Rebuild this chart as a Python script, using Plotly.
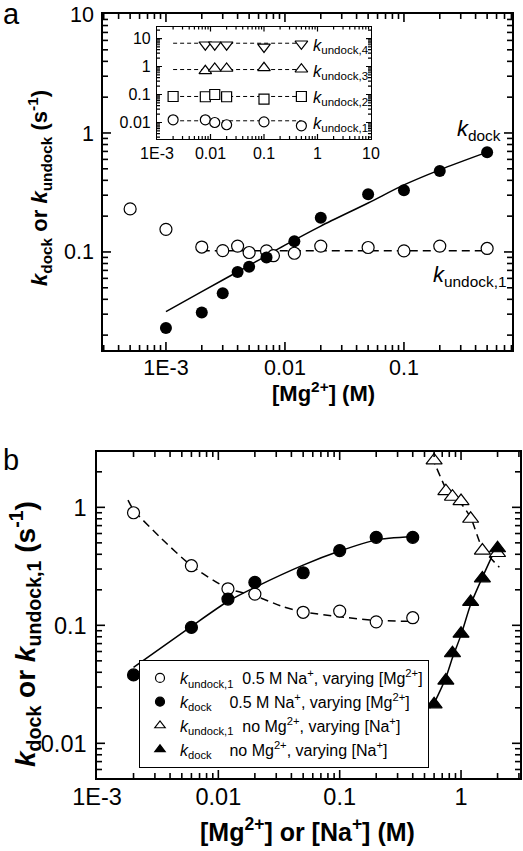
import math
import plotly.graph_objects as go

W, H = 523, 851
FONT = "Arial, Liberation Sans, Helvetica, sans-serif"

# ---------------- Panel a data ----------------
mg_a_undock = [0.0005, 0.001, 0.002, 0.003, 0.004, 0.005, 0.007, 0.008, 0.012, 0.02, 0.05, 0.1, 0.2, 0.5]
k_undock1_a = [0.23, 0.155, 0.11, 0.1025, 0.112, 0.099, 0.102, 0.093, 0.0975, 0.112, 0.109, 0.102, 0.112, 0.107]
mg_a_dock = [0.001, 0.002, 0.003, 0.004, 0.005, 0.007, 0.012, 0.02, 0.05, 0.1, 0.2, 0.5]
k_dock_a = [0.023, 0.031, 0.045, 0.068, 0.075, 0.09, 0.123, 0.194, 0.305, 0.33, 0.48, 0.69]
mg_a_dock_fit = [0.001, 0.002, 0.005, 0.01, 0.02, 0.05, 0.1, 0.2, 0.5]
k_dock_a_fit = [0.0315, 0.0465, 0.077, 0.114, 0.165, 0.258, 0.366, 0.49, 0.69]
mg_a_undock_fit = [0.002, 0.5]
k_undock_a_fit = [0.1025, 0.1025]

# ---------------- Inset data ----------------
mg_inset = [0.002, 0.008, 0.012, 0.02, 0.1, 0.5]
mg_inset_34 = [0.008, 0.012, 0.02, 0.1, 0.5]
k_undock1_in = [0.0125, 0.0125, 0.010, 0.0083, 0.0105, 0.0076]
k_undock2_in = [0.085, 0.083, 0.10, 0.083, 0.068, 0.085]
k_undock3_in = [0.7, 0.85, 0.85, 0.9, 0.8]
k_undock4_in = [6.0, 6.0, 6.0, 5.0, 6.5]
inset_fit_x = [0.002, 0.5]
inset_fit_levels = [0.0115, 0.085, 0.78, 6.8]
inset_names = ["undock,1", "undock,2", "undock,3", "undock,4"]

# ---------------- Panel b data ----------------
mg_b = [0.002, 0.006, 0.012, 0.02, 0.05, 0.1, 0.2, 0.4]
k_undock1_mg_b = [0.9, 0.32, 0.204, 0.184, 0.129, 0.132, 0.107, 0.116]
k_dock_mg_b = [0.038, 0.096, 0.167, 0.231, 0.279, 0.43, 0.557, 0.557]
na_b = [0.6, 0.75, 0.85, 1.0, 1.2, 1.5, 2.0]
k_undock1_na_b = [2.5, 1.37, 1.23, 1.13, 0.80, 0.43, 0.41]
k_dock_na_b = [0.0214, 0.034, 0.058, 0.085, 0.158, 0.25, 0.45]

mg_b_undock_fit = [0.0018, 0.002, 0.0033, 0.006, 0.012, 0.02, 0.034, 0.05, 0.1, 0.2, 0.4]
k_b_undock_fit = [1.15, 0.95, 0.56, 0.32, 0.205, 0.178, 0.144, 0.13, 0.118, 0.11, 0.108]
mg_b_dock_fit = [0.002, 0.006, 0.012, 0.02, 0.05, 0.1, 0.2, 0.4]
k_b_dock_fit = [0.044, 0.098, 0.16, 0.21, 0.324, 0.426, 0.53, 0.565]
na_b_undock_fit = [0.575, 0.75, 0.85, 1.0, 1.2, 1.5, 2.07]
k_b_undock_na_fit = [2.69, 1.45, 1.25, 1.08, 0.82, 0.45, 0.31]
na_b_dock_fit = [0.55, 0.6, 0.75, 0.85, 1.0, 1.2, 1.5, 1.95]
k_b_dock_na_fit = [0.0198, 0.022, 0.036, 0.053, 0.083, 0.15, 0.255, 0.46]

legend_labels = [
    "<i>k</i><sub>undock,1</sub>&nbsp;&nbsp;0.5 M Na<sup>+</sup>, varying [Mg<sup>2+</sup>]",
    "<i>k</i><sub>dock</sub>&nbsp;&nbsp;&nbsp;&nbsp;0.5 M Na<sup>+</sup>, varying [Mg<sup>2+</sup>]",
    "<i>k</i><sub>undock,1</sub>&nbsp;&nbsp;no Mg<sup>2+</sup>, varying [Na<sup>+</sup>]",
    "<i>k</i><sub>dock</sub>&nbsp;&nbsp;&nbsp;&nbsp;no Mg<sup>2+</sup>, varying [Na<sup>+</sup>]",
]


def px(x):
    return x / W


def py(y):
    return 1 - y / H


def log_axis(domain, rng, tickvals, ticktext, anchor, fsize, lw=1.5, standoff=3):
    return dict(
        type="log", domain=domain, range=rng, anchor=anchor, automargin=False,
        showline=True, linecolor="black", linewidth=lw, mirror=True,
        ticks="", tickmode="array", tickvals=tickvals, ticktext=ticktext,
        tickfont=dict(family=FONT, size=fsize, color="black"),
        ticklabelstandoff=standoff,
        showgrid=False, zeroline=False,
    )


fig = go.Figure()

LINE = dict(color="black", width=1.5)
DASH = dict(color="black", width=1.5, dash="8px,5px")

# ---- panel a ----
fig.add_trace(go.Scatter(x=mg_a_dock_fit, y=k_dock_a_fit, mode="lines", line=dict(LINE, shape="spline", smoothing=0.8),
                         xaxis="x", yaxis="y", showlegend=False))
fig.add_trace(go.Scatter(x=mg_a_undock_fit, y=k_undock_a_fit, mode="lines", line=DASH,
                         xaxis="x", yaxis="y", showlegend=False))
fig.add_trace(go.Scatter(x=mg_a_undock, y=k_undock1_a, mode="markers",
                         marker=dict(symbol="circle", size=12, color="white", line=dict(color="black", width=1.2)),
                         xaxis="x", yaxis="y", showlegend=False))
fig.add_trace(go.Scatter(x=mg_a_dock, y=k_dock_a, mode="markers",
                         marker=dict(symbol="circle", size=12, color="black", line=dict(color="black", width=0)),
                         xaxis="x", yaxis="y", showlegend=False))

# ---- inset ----
inset_series = [
    (mg_inset, k_undock1_in, "circle"),
    (mg_inset, k_undock2_in, "square"),
    (mg_inset_34, k_undock3_in, "triangle-up"),
    (mg_inset_34, k_undock4_in, "triangle-down"),
]
for lev in inset_fit_levels:
    fig.add_trace(go.Scatter(x=inset_fit_x, y=[lev, lev], mode="lines",
                             line=dict(color="black", width=1, dash="4px,3px"),
                             xaxis="x2", yaxis="y2", showlegend=False))
for xs, ys, sym in inset_series:
    fig.add_trace(go.Scatter(x=xs, y=ys, mode="markers",
                             marker=dict(symbol=sym, size=10 if sym in ("circle", "square") else 11,
                                         color="white", line=dict(color="black", width=1.2)),
                             xaxis="x2", yaxis="y2", showlegend=False))

# ---- panel b ----
fig.add_trace(go.Scatter(x=mg_b_undock_fit, y=k_b_undock_fit, mode="lines", line=dict(DASH, shape="spline", smoothing=0.6),
                         xaxis="x3", yaxis="y3", showlegend=False))
fig.add_trace(go.Scatter(x=mg_b_dock_fit, y=k_b_dock_fit, mode="lines", line=dict(LINE, shape="spline", smoothing=0.6),
                         xaxis="x3", yaxis="y3", showlegend=False))
fig.add_trace(go.Scatter(x=na_b_undock_fit, y=k_b_undock_na_fit, mode="lines", line=dict(DASH, shape="spline", smoothing=0.6),
                         xaxis="x3", yaxis="y3", showlegend=False))
fig.add_trace(go.Scatter(x=na_b_dock_fit, y=k_b_dock_na_fit, mode="lines", line=dict(LINE, shape="spline", smoothing=0.6),
                         xaxis="x3", yaxis="y3", showlegend=False))

b_series = [
    (mg_b, k_undock1_mg_b, "circle", "white", 12),
    (mg_b, k_dock_mg_b, "circle", "black", 12),
    (na_b, k_undock1_na_b, "triangle-up", "white", 14),
    (na_b, k_dock_na_b, "triangle-up", "black", 14),
]
for xs, ys, sym, col, sz in b_series:
    fig.add_trace(go.Scatter(x=xs, y=ys, mode="markers",
                             marker=dict(symbol=sym, size=sz, color=col, line=dict(color="black", width=1.2)),
                             xaxis="x3", yaxis="y3", showlegend=False))

# legend entries (proxy traces, no data)
for (xs, ys, sym, col, sz), lab in zip(b_series, legend_labels):
    fig.add_trace(go.Scatter(x=[None], y=[None], mode="markers", name=lab,
                             marker=dict(symbol=sym, size=9, color=col, line=dict(color="black", width=1.2)),
                             xaxis="x3", yaxis="y3", showlegend=True))

# ---------------- axes geometry (pixels) and ranges (log10) ----------------
A_XPX, A_YPX = (103, 512), (14, 350)
I_XPX, I_YPX = (157, 371), (26.5, 139)
B_XPX, B_YPX = (97, 520), (452, 778)
RA_X, RA_Y = [-3.529, -0.092], [-1.824, 1.0]
RI_X, RI_Y = [-3.0, 1.0], [-2.59, 1.43]
RB_X, RB_Y = [-3.0, 0.486], [-2.294, 0.469]


# ---------------- inward tick marks drawn on each subplot's own log scale ----------------
def log_tick_values(rng, major_len, minor_len):
    lo, hi = rng
    out = []
    for e in range(math.floor(lo) - 1, math.ceil(hi) + 1):
        for m in range(1, 10):
            v = m * 10.0 ** e
            lv = math.log10(v)
            if lo + 1e-6 < lv < hi - 1e-6:
                out.append((v, major_len if m == 1 else minor_len))
    return out


def add_tick_trace(xaxis, yaxis, xr, yr, xpx, ypx, major_len, minor_len, width):
    ppd_x = (xpx[1] - xpx[0]) / (xr[1] - xr[0])
    ppd_y = (ypx[1] - ypx[0]) / (yr[1] - yr[0])
    xs, ys = [], []
    for v, L in log_tick_values(xr, major_len, minor_len):
        d = L / ppd_y
        xs += [v, v, None, v, v, None]
        ys += [10 ** yr[0], 10 ** (yr[0] + d), None, 10 ** yr[1], 10 ** (yr[1] - d), None]
    for v, L in log_tick_values(yr, major_len, minor_len):
        d = L / ppd_x
        xs += [10 ** xr[0], 10 ** (xr[0] + d), None, 10 ** xr[1], 10 ** (xr[1] - d), None]
        ys += [v, v, None, v, v, None]
    fig.add_trace(go.Scatter(x=xs, y=ys, mode="lines", line=dict(color="black", width=width),
                             connectgaps=False, hoverinfo="skip", showlegend=False,
                             xaxis=xaxis, yaxis=yaxis))


add_tick_trace("x", "y", RA_X, RA_Y, A_XPX, A_YPX, 8, 5, 1.6)
add_tick_trace("x2", "y2", RI_X, RI_Y, I_XPX, I_YPX, 5, 3, 1.2)
add_tick_trace("x3", "y3", RB_X, RB_Y, B_XPX, B_YPX, 8, 5, 1.6)

# ---------------- layout ----------------
layout = dict(
    template="none",
    width=W, height=H,
    margin=dict(l=0, r=0, t=0, b=0, pad=0, autoexpand=False),
    paper_bgcolor="white", plot_bgcolor="white",
    font=dict(family=FONT, color="black"),
    xaxis=log_axis([px(A_XPX[0]), px(A_XPX[1])], RA_X, [0.001, 0.01, 0.1], ["1E-3", "0.01", "0.1"], "y", 21.5, standoff=-3),
    yaxis=log_axis([py(A_YPX[1]), py(A_YPX[0])], RA_Y, [0.1, 1, 10], ["0.1", "1", "10"], "x", 21.5, standoff=3),
    xaxis2=log_axis([px(I_XPX[0]), px(I_XPX[1])], RI_X, [0.001, 0.01, 0.1, 1, 10], ["1E-3", "0.01", "0.1", "1", "10"],
                    "y2", 16, lw=1.2, standoff=0),
    yaxis2=log_axis([py(I_YPX[1]), py(I_YPX[0])], RI_Y, [0.01, 0.1, 1, 10], ["0.01", "0.1", "1", "10"],
                    "x2", 16, lw=1.2, standoff=2),
    xaxis3=log_axis([px(B_XPX[0]), px(B_XPX[1])], RB_X, [0.001, 0.01, 0.1, 1], ["1E-3", "0.01", "0.1", "1"], "y3", 23.5, standoff=-3),
    yaxis3=log_axis([py(B_YPX[1]), py(B_YPX[0])], RB_Y, [0.01, 0.1, 1], ["0.01", "0.1", "1"], "x3", 23.5, standoff=4),
    legend=dict(x=px(139), y=py(660), xanchor="left", yanchor="top",
                bordercolor="black", borderwidth=1, bgcolor="white",
                font=dict(family=FONT, size=16, color="black"),
                itemwidth=30, tracegroupgap=0, traceorder="normal"),
    showlegend=True,
)
fig.update_layout(**layout)

ann = []


def add_text(text, x, y, size, xanchor="center", yanchor="middle", angle=0):
    ann.append(dict(text=text, x=px(x), y=py(y), xref="paper", yref="paper",
                    xanchor=xanchor, yanchor=yanchor, showarrow=False, textangle=angle,
                    font=dict(family=FONT, size=size, color="black")))


add_text("a", 11, 14, 29)
add_text("b", 11, 460, 29)
add_text("<b><i>k</i><sub>dock</sub> or <i>k</i><sub>undock</sub> (s<sup>-1</sup>)</b>", 39, 188, 22, angle=-90)
add_text("<b>[Mg<sup>2+</sup>] (M)</b>", 323, 392, 22)
add_text("<b><i>k</i><sub>dock</sub> or <i>k</i><sub>undock,1</sub> (s<sup>-1</sup>)</b>", 25, 634, 28, angle=-90)
add_text("<b>[Mg<sup>2+</sup>] or [Na<sup>+</sup>] (M)</b>", 307, 830, 25)
add_text("<i>k</i><sub>dock</sub>", 455, 130, 22, xanchor="left")
add_text("<i>k</i><sub>undock,1</sub>", 431, 276, 22, xanchor="left")
for name, yy in zip(inset_names, [124, 98, 72, 46]):
    add_text("<i>k</i><sub>%s</sub>" % name, 311, yy, 16.5, xanchor="left")

fig.update_layout(annotations=ann)
fig.write_html("out.html", config={"displayModeBar": False},
               post_script="document.body.style.margin='0';document.body.style.overflow='hidden';")
